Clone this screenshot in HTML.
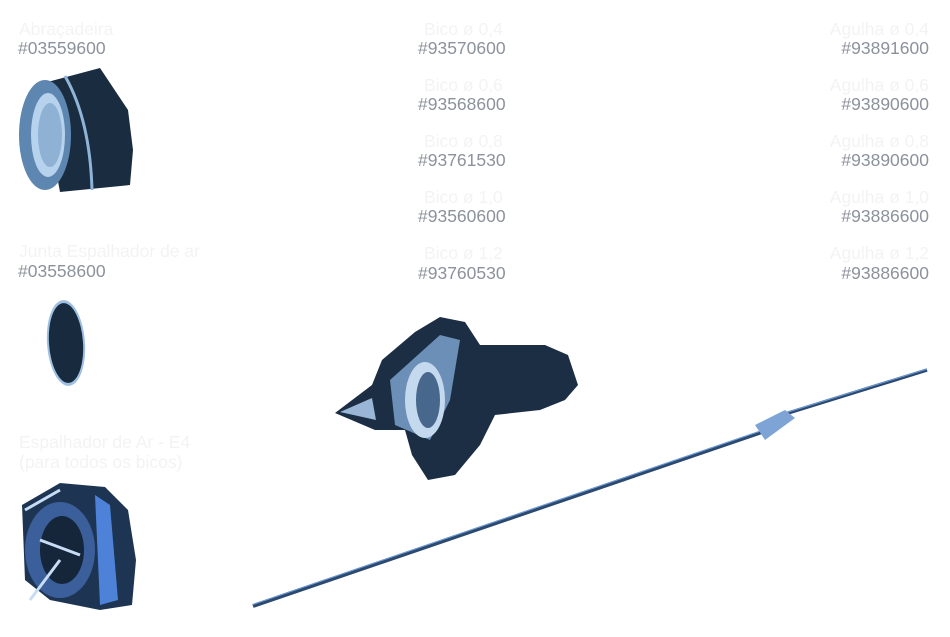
<!DOCTYPE html>
<html><head><meta charset="utf-8"><style>
body{margin:0;width:950px;height:637px;background:#fff;position:relative;overflow:hidden;font-family:"Liberation Sans",sans-serif}
.t{position:absolute;font-size:17.5px;line-height:20px;color:#8c929b;white-space:nowrap}
.l{position:absolute;font-size:17.5px;line-height:20px;color:#f3f3f3;white-space:nowrap}
.r{text-align:right}
</style></head><body>
<div class="l" style="left:19px;top:19px">Abraçadeira</div>
<div class="t" style="left:18px;top:38px">#03559600</div>
<div class="l" style="left:19px;top:241px">Junta Espalhador de ar</div>
<div class="t" style="left:18px;top:261px">#03558600</div>
<div class="l" style="left:19px;top:432px">Espalhador de Ar - E4</div>
<div class="l" style="left:19px;top:452px">(para todos os bicos)</div>

<div class="l" style="left:424px;top:19px">Bico ø 0,4</div><div class="t" style="left:418px;top:38px">#93570600</div>
<div class="l" style="left:424px;top:75px">Bico ø 0,6</div><div class="t" style="left:418px;top:94px">#93568600</div>
<div class="l" style="left:424px;top:131px">Bico ø 0,8</div><div class="t" style="left:418px;top:150px">#93761530</div>
<div class="l" style="left:424px;top:187px">Bico ø 1,0</div><div class="t" style="left:418px;top:206px">#93560600</div>
<div class="l" style="left:424px;top:243px">Bico ø 1,2</div><div class="t" style="left:418px;top:263px">#93760530</div>

<div class="l r" style="right:21px;top:19px">Agulha ø 0,4</div><div class="t r" style="right:21px;top:38px">#93891600</div>
<div class="l r" style="right:21px;top:75px">Agulha ø 0,6</div><div class="t r" style="right:21px;top:94px">#93890600</div>
<div class="l r" style="right:21px;top:131px">Agulha ø 0,8</div><div class="t r" style="right:21px;top:150px">#93890600</div>
<div class="l r" style="right:21px;top:187px">Agulha ø 1,0</div><div class="t r" style="right:21px;top:206px">#93886600</div>
<div class="l r" style="right:21px;top:243px">Agulha ø 1,2</div><div class="t r" style="right:21px;top:263px">#93886600</div>

<svg width="950" height="637" style="position:absolute;left:0;top:0">
<path d="M40 84 L100 68 L128 110 L133 150 L130 185 L60 192 Z" fill="#1a2c40"/>
<ellipse cx="45" cy="135" rx="26" ry="55" fill="#5d86b0"/>
<ellipse cx="48" cy="135" rx="17" ry="42" fill="#b6d2ec"/>
<ellipse cx="50" cy="135" rx="12" ry="32" fill="#8fb1d3"/>
<path d="M65 76 Q90 120 92 190" stroke="#8fb4d8" stroke-width="3" fill="none"/>
<ellipse cx="66" cy="343" rx="19" ry="43" transform="rotate(-4 66 343)" fill="#9fc0e2"/>
<ellipse cx="66" cy="343" rx="17" ry="40" transform="rotate(-4 66 343)" fill="#172a3e"/>
<path d="M22 505 L60 483 L105 487 L128 510 L136 560 L132 605 L100 610 L50 600 L25 580 Z" fill="#1d3552"/>
<ellipse cx="60" cy="550" rx="35" ry="48" fill="#3a5f9a"/>
<ellipse cx="62" cy="550" rx="22" ry="34" fill="#15263a"/>
<path d="M95 495 L110 505 L118 600 L100 605 Z" fill="#4d82d8"/>
<path d="M25 510 L60 490 M30 600 L60 560 M40 540 L80 555" stroke="#c8dcf5" stroke-width="3" fill="none"/>
<path d="M335 413 L372 385 L382 360 L415 332 L440 317 L465 322 L480 345 L545 345 L568 355 L578 385 L565 400 L540 410 L495 415 L480 445 L455 475 L428 480 L412 455 L405 430 L375 430 Z" fill="#1b2e44"/>
<path d="M390 380 L440 335 L460 340 L450 400 L430 440 L395 425 Z" fill="#6c8fb8"/>
<ellipse cx="425" cy="400" rx="20" ry="38" fill="#c5d9ee"/>
<ellipse cx="428" cy="400" rx="12" ry="28" fill="#47678c"/>
<path d="M340 412 L372 398 L376 420 Z" fill="#9ab6d6"/>
<path d="M253 606 L765 431" stroke="#2c4a6f" stroke-width="4"/>
<path d="M253 604.5 L765 429.5" stroke="#6fa0e0" stroke-width="1"/>
<path d="M785 414 L927 370" stroke="#2c4a6f" stroke-width="3.5"/>
<path d="M785 413 L927 369" stroke="#6fa0e0" stroke-width="1"/>
<path d="M755 425 L785 410 L795 418 L765 440 Z" fill="#7ea4d6"/>
</svg>
</body></html>
